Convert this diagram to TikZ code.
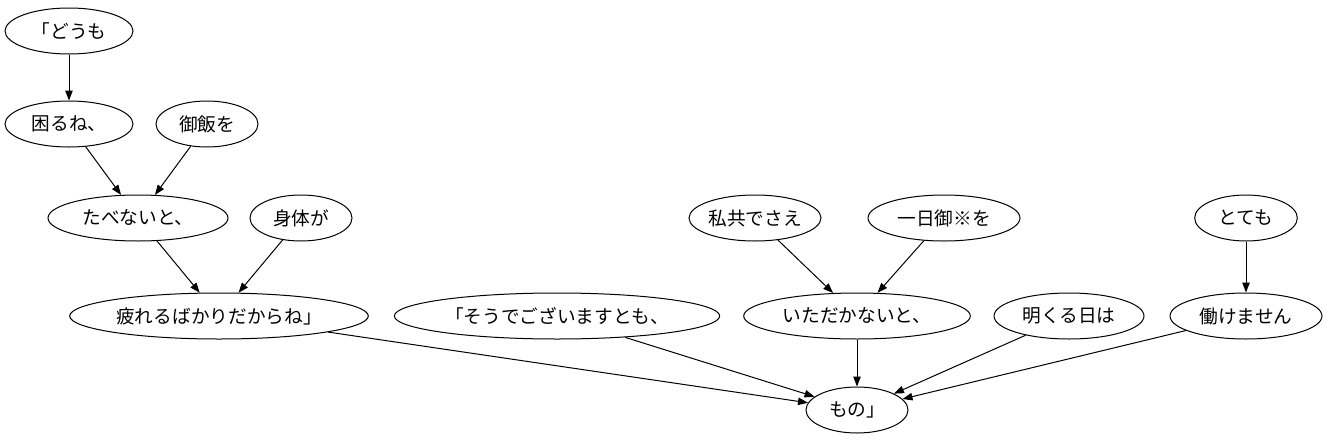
\documentclass[tikz,border=0pt]{standalone}
\usepackage{fontspec}
\setmainfont{Noto Sans CJK JP}
\usetikzlibrary{shapes.geometric,arrows.meta}
\begin{document}
\begin{tikzpicture}[x=0.75pt,y=-0.75pt,
  word/.style={ellipse,draw,line width=0.75pt,inner sep=0pt,minimum height=34.5pt,font=\fontsize{14pt}{16pt}\selectfont},
  link/.style={line width=0.75pt,-{Triangle[length=7.5pt,width=5.6pt]}}]
\useasboundingbox (0,0) rectangle (1328,443);
\node[word,minimum width=96pt]    (doumo)   at (69,31)   {「どうも};
\node[word,minimum width=96pt]    (komaru)  at (69,124)  {困るね、};
\node[word,minimum width=76.5pt]  (gohan)   at (207,124) {御飯を};
\node[word,minimum width=135pt]   (tabe)    at (138,218) {たべないと、};
\node[word,minimum width=76.5pt]  (karada)  at (301,218) {身体が};
\node[word,minimum width=224pt]   (tsukare) at (219,316) {疲れるばかりだからね」};
\node[word,minimum width=244pt]   (sou)     at (557,316) {「そうでございますとも、};
\node[word,minimum width=94.5pt]  (watashi) at (755,218) {私共でさえ};
\node[word,minimum width=114pt]   (ichinichi) at (944,218) {一日御※を};
\node[word,minimum width=170pt]   (itadaka) at (857,316) {いただかないと、};
\node[word,minimum width=112.5pt] (akuru)   at (1069,316) {明くる日は};
\node[word,minimum width=77pt]    (totemo)  at (1246,218) {とても};
\node[word,minimum width=114pt]   (hatarake) at (1246,316) {働けません};
\node[word,minimum width=76.5pt]  (mono)    at (857,410) {もの」};
\draw[link] (doumo) -- (komaru);
\draw[link] (komaru) -- (tabe);
\draw[link] (gohan) -- (tabe);
\draw[link] (tabe) -- (tsukare);
\draw[link] (karada) -- (tsukare);
\draw[link] (watashi) -- (itadaka);
\draw[link] (ichinichi) -- (itadaka);
\draw[link] (totemo) -- (hatarake);
\draw[link] (tsukare) -- (mono);
\draw[link] (sou) -- (mono);
\draw[link] (itadaka) -- (mono);
\draw[link] (akuru) -- (mono);
\draw[link] (hatarake) -- (mono);
\end{tikzpicture}
\end{document}
